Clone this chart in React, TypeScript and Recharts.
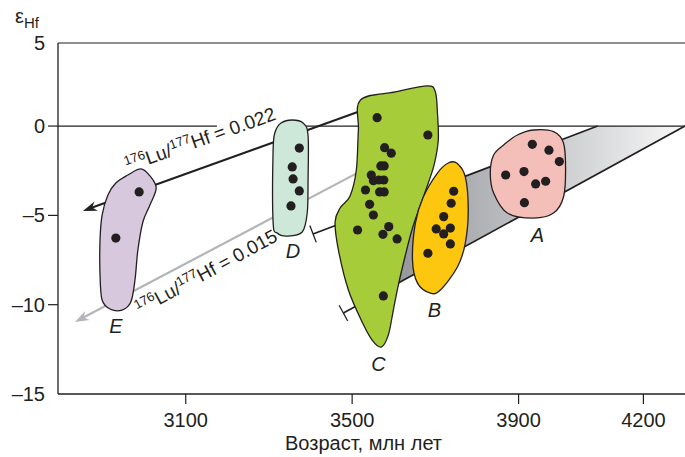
import React from "react";
import { ScatterChart, Scatter, XAxis, YAxis, ReferenceLine } from "recharts";

const INK = "#231f20";
const FONT = '"Liberation Sans", Arial, sans-serif';

// age (Ma) and epsilon Hf ranges; the frame top is labelled "5"
const X_MIN = 2793;
const X_MAX = 4300;
const Y_MIN = -15;
const Y_TOP = 4.65;
const X_TICKS = [3100, 3500, 3900, 4200];
const Y_TICKS = [-15, -10, -5, 0, Y_TOP];

type Pt = [number, number];

// field outlines
const OUTLINE_E: Pt[] = [
  [2961, -2.74], [2992, -2.4], [3014, -2.79], [3029, -3.47], [3014, -4.42], [2997, -5.37],
  [2985, -6.94], [2978, -8.62], [2968, -9.85], [2947, -10.3], [2918, -10.24], [2899, -9.74],
  [2894, -8.34], [2894, -6.38], [2899, -4.98], [2913, -3.86], [2932, -3.19],
];
const OUTLINE_D: Pt[] = [
  [3356, 0.34], [3382, 0.17], [3394, -0.5], [3394, -3.02], [3392, -4.87], [3380, -5.93],
  [3344, -6.16], [3320, -5.99], [3310, -5.38], [3310, -1.34], [3315, -0.33], [3329, 0.17],
];
const OUTLINE_C: Pt[] = [
  [3520, 1.46], [3604, 1.91], [3681, 2.25], [3700, 1.91], [3705, 0.73], [3707, -0.78],
  [3698, -2.07], [3683, -3.19], [3664, -4.42], [3645, -5.71], [3628, -7.22], [3611, -8.9],
  [3599, -10.3], [3587, -11.69], [3570, -12.37], [3548, -11.98], [3524, -10.97], [3491, -9.18],
  [3467, -6.94], [3459, -5.37], [3471, -4.59], [3495, -3.91], [3510, -2.46], [3515, -0.22],
];
const OUTLINE_B: Pt[] = [
  [3752, -2.08], [3772, -2.85], [3779, -4.7], [3772, -6.55], [3753, -7.89], [3712, -9.18],
  [3688, -9.35], [3657, -8.79], [3645, -7.5], [3652, -5.43], [3671, -3.97], [3705, -2.63],
  [3731, -2.07],
];
const OUTLINE_A: Pt[] = [
  [3864, -1.06], [3897, -0.5], [3936, -0.22], [3984, -0.31], [4008, -0.95], [4013, -2.46],
  [4008, -3.97], [3984, -4.87], [3936, -5.15], [3873, -4.87], [3840, -3.75], [3832, -2.63],
  [3840, -1.62],
];

// analyses
const DOTS_E: Pt[] = [[2988, -3.69], [2932, -6.27]];
const DOTS_D: Pt[] = [[3373, -1.23], [3356, -2.29], [3358, -2.96], [3373, -3.63], [3353, -4.47]];
const DOTS_C: Pt[] = [
  [3560, 0.47], [3682, -0.5], [3578, -1.21], [3594, -1.52], [3569, -2.23], [3577, -2.23],
  [3546, -2.74], [3551, -3.06], [3564, -3.02], [3576, -3.02], [3532, -3.58], [3566, -3.69],
  [3577, -3.69], [3542, -4.38], [3551, -4.98], [3513, -5.82], [3588, -5.63], [3574, -6.06],
  [3608, -6.32], [3575, -9.51],
];
const DOTS_B: Pt[] = [
  [3744, -3.65], [3738, -4.32], [3720, -5.07], [3702, -5.76], [3736, -5.71], [3720, -6.04],
  [3736, -6.6], [3682, -7.12],
];
const DOTS_A: Pt[] = [
  [3933, -1.02], [3973, -1.35], [3998, -1.99], [3869, -2.74], [3913, -2.55], [3941, -3.24],
  [3965, -3.09], [3914, -4.29],
];

// evolution band and model lines
const BAND: Pt[] = [[3560, -4.68], [4090, 0], [4300, 0], [3560, -9.44]];
const BAND_TOP: Pt[] = [[3406, -6.04], [4090, 0]];
const BAND_BOTTOM: Pt[] = [[3479, -10.47], [4300, 0]];
const CHUR_LEFT: Pt[] = [[X_MIN, 0], [3175, 0]];
const CHUR_RIGHT: Pt[] = [[3330, 0], [X_MAX, 0]];
const LU_022: Pt[] = [[3540, 1.01], [2853, -4.75]];
const LU_015: Pt[] = [[3530, -2.41], [2834, -10.97]];

const FIELD_NAMES = ["A", "B", "C", "D", "E"];
const FIELD_LABEL_POS: Pt[] = [[3945, -6.1], [3698, -10.3], [3563, -13.32], [3358, -6.99], [2932, -11.19]];

const RATIO_LABELS = [
  { x: 3140, y: -1.1, ratio: "0.022", angle: -19.5 },
  { x: 3157, y: -8.5, ratio: "0.015", angle: -28.5 },
];

const toXY = (pts: Pt[]) => pts.map(([x, y]) => ({ x, y }));

function closedSpline(pts: { x: number; y: number }[]) {
  const n = pts.length;
  let d = `M${pts[0].x},${pts[0].y}`;
  for (let i = 0; i < n; i++) {
    const p0 = pts[(i - 1 + n) % n];
    const p1 = pts[i];
    const p2 = pts[(i + 1) % n];
    const p3 = pts[(i + 2) % n];
    const c1x = p1.x + (p2.x - p0.x) / 6;
    const c1y = p1.y + (p2.y - p0.y) / 6;
    const c2x = p2.x - (p3.x - p1.x) / 6;
    const c2y = p2.y - (p3.y - p1.y) / 6;
    d += `C${c1x},${c1y} ${c2x},${c2y} ${p2.x},${p2.y}`;
  }
  return d + "Z";
}

const nothing = () => <g />;

const blob = (fill: string) => (p: any) => (
  <path d={closedSpline(p.points)} fill={fill} stroke={INK} strokeWidth={1.3} strokeLinejoin="round" />
);

const bandFill = (p: any) => {
  const xs = p.points.map((q: any) => q.x);
  const d = p.points.map((q: any, i: number) => `${i ? "L" : "M"}${q.x},${q.y}`).join("") + "Z";
  return (
    <g>
      <defs>
        <linearGradient id="bandGrad" gradientUnits="userSpaceOnUse" x1={Math.min(...xs)} x2={Math.max(...xs)} y1={0} y2={0}>
          <stop offset="0" stopColor="#8e9093" />
          <stop offset="0.45" stopColor="#bcbec1" />
          <stop offset="1" stopColor="#f8f8f8" />
        </linearGradient>
      </defs>
      <path d={d} fill="url(#bandGrad)" stroke="none" />
    </g>
  );
};

const segment = (stroke: string, width: number, opts: { arrow?: boolean; bar?: boolean } = {}) => (p: any) => {
  const pts = p.points;
  const a = pts[0];
  const b = pts[pts.length - 1];
  const len = Math.hypot(b.x - a.x, b.y - a.y) || 1;
  const ux = (b.x - a.x) / len;
  const uy = (b.y - a.y) / len;
  const nx = -uy;
  const ny = ux;
  const L = 14;
  const W = 5;
  const end = opts.arrow ? { x: b.x - ux * L * 0.6, y: b.y - uy * L * 0.6 } : b;
  return (
    <g>
      <line x1={a.x} y1={a.y} x2={end.x} y2={end.y} stroke={stroke} strokeWidth={width} />
      {opts.arrow && (
        <path
          d={`M${b.x},${b.y}L${b.x - ux * L + nx * W},${b.y - uy * L + ny * W}L${b.x - ux * L * 0.7},${b.y - uy * L * 0.7}L${b.x - ux * L - nx * W},${b.y - uy * L - ny * W}Z`}
          fill={stroke}
        />
      )}
      {opts.bar && (
        <line x1={a.x + nx * 9} y1={a.y + ny * 9} x2={a.x - nx * 9} y2={a.y - ny * 9} stroke={stroke} strokeWidth={1.3} />
      )}
    </g>
  );
};

const dot = (p: any) => <circle cx={p.cx} cy={p.cy} r={4.6} fill={INK} />;

const fieldLabel = (p: any) => (
  <text x={p.cx} y={p.cy} textAnchor="middle" dominantBaseline="central" fontSize={20} fontStyle="italic" fill={INK}>
    {p.payload.name}
  </text>
);

const ratioLabel = (p: any) => (
  <text
    x={p.cx}
    y={p.cy}
    textAnchor="middle"
    fontSize={19}
    fill={INK}
    transform={`rotate(${p.payload.angle} ${p.cx} ${p.cy})`}
  >
    <tspan fontSize={13} dy={-7}>176</tspan>
    <tspan dy={7}>Lu/</tspan>
    <tspan fontSize={13} dy={-7}>177</tspan>
    <tspan dy={7}>{`Hf = ${p.payload.ratio}`}</tspan>
  </text>
);

const fmtY = (v: number) => (v === Y_TOP ? "5" : v < 0 ? `\u2013${-v}` : `${v}`);

const YTick = (p: any) => {
  const v = p.payload.value;
  const edge = v === Y_MIN || v === Y_TOP;
  return (
    <g>
      {!edge && <line x1={p.x + 3} x2={p.x + 13} y1={p.y} y2={p.y} stroke={INK} strokeWidth={1.2} />}
      <text x={p.x} y={p.y} textAnchor="end" dominantBaseline="central" fontSize={20} fill={INK}>
        {fmtY(v)}
      </text>
    </g>
  );
};

const xTitle = (p: any) => {
  const vb = p.viewBox;
  return (
    <text x={vb.x + vb.width / 2 - 8} y={vb.y + vb.height - 7} textAnchor="middle" fontSize={20} fill={INK}>
      Возраст, млн лет
    </text>
  );
};

const yTitle = (p: any) => {
  const vb = p.viewBox;
  return (
    <text x={vb.x + 15} y={vb.y - 20} fontSize={20} fill={INK}>
      ε<tspan fontSize={15} dy={5}>Hf</tspan>
    </text>
  );
};

const fieldLabels = FIELD_NAMES.map((name, i) => ({ name, x: FIELD_LABEL_POS[i][0], y: FIELD_LABEL_POS[i][1] }));
const allDots = toXY([...DOTS_E, ...DOTS_D, ...DOTS_C, ...DOTS_B, ...DOTS_A]);

export default function App() {
  return (
    <div style={{ width: 685, height: 457, fontFamily: FONT, background: "#fff" }}>
      <style>{"body{margin:0}"}</style>
      <ScatterChart width={685} height={457} margin={{ top: 43, right: 0, bottom: 0, left: 0 }}>
        <XAxis
          type="number"
          dataKey="x"
          domain={[X_MIN, X_MAX]}
          ticks={X_TICKS}
          allowDataOverflow
          height={63}
          tickSize={10}
          tickMargin={9}
          tick={{ fill: INK, fontSize: 20 }}
          axisLine={{ stroke: INK, strokeWidth: 1.3 }}
          tickLine={{ stroke: INK, strokeWidth: 1.2 }}
          label={xTitle}
        />
        <YAxis
          type="number"
          dataKey="y"
          domain={[Y_MIN, Y_TOP]}
          ticks={Y_TICKS}
          allowDataOverflow
          width={58}
          tickSize={10}
          tickMargin={3}
          tick={YTick}
          tickLine={false}
          axisLine={{ stroke: INK, strokeWidth: 1.3 }}
          label={yTitle}
        />
        <ReferenceLine y={Y_TOP} stroke={INK} strokeWidth={1.2} />

        <Scatter data={toXY(BAND)} line={bandFill} lineType="joint" shape={nothing} isAnimationActive={false} />
        <Scatter data={toXY(CHUR_LEFT)} line={segment(INK, 1.2)} lineType="joint" shape={nothing} isAnimationActive={false} />
        <Scatter data={toXY(CHUR_RIGHT)} line={segment(INK, 1.2)} lineType="joint" shape={nothing} isAnimationActive={false} />
        <Scatter data={toXY(BAND_TOP)} line={segment(INK, 1.7, { bar: true })} lineType="joint" shape={nothing} isAnimationActive={false} />
        <Scatter data={toXY(BAND_BOTTOM)} line={segment(INK, 1.7, { bar: true })} lineType="joint" shape={nothing} isAnimationActive={false} />
        <Scatter data={toXY(LU_022)} line={segment(INK, 2, { arrow: true })} lineType="joint" shape={nothing} isAnimationActive={false} />
        <Scatter data={toXY(LU_015)} line={segment("#b3b5b8", 2.2, { arrow: true })} lineType="joint" shape={nothing} isAnimationActive={false} />

        <Scatter data={toXY(OUTLINE_E)} line={blob("#d7c8dd")} lineType="joint" shape={nothing} isAnimationActive={false} />
        <Scatter data={toXY(OUTLINE_D)} line={blob("#cde7d8")} lineType="joint" shape={nothing} isAnimationActive={false} />
        <Scatter data={toXY(OUTLINE_C)} line={blob("#a6cd39")} lineType="joint" shape={nothing} isAnimationActive={false} />
        <Scatter data={toXY(OUTLINE_B)} line={blob("#fdc70f")} lineType="joint" shape={nothing} isAnimationActive={false} />
        <Scatter data={toXY(OUTLINE_A)} line={blob("#f5bfb9")} lineType="joint" shape={nothing} isAnimationActive={false} />

        <Scatter data={allDots} shape={dot} isAnimationActive={false} />
        <Scatter data={fieldLabels} shape={fieldLabel} isAnimationActive={false} />
        <Scatter data={RATIO_LABELS} shape={ratioLabel} isAnimationActive={false} />
      </ScatterChart>
    </div>
  );
}
